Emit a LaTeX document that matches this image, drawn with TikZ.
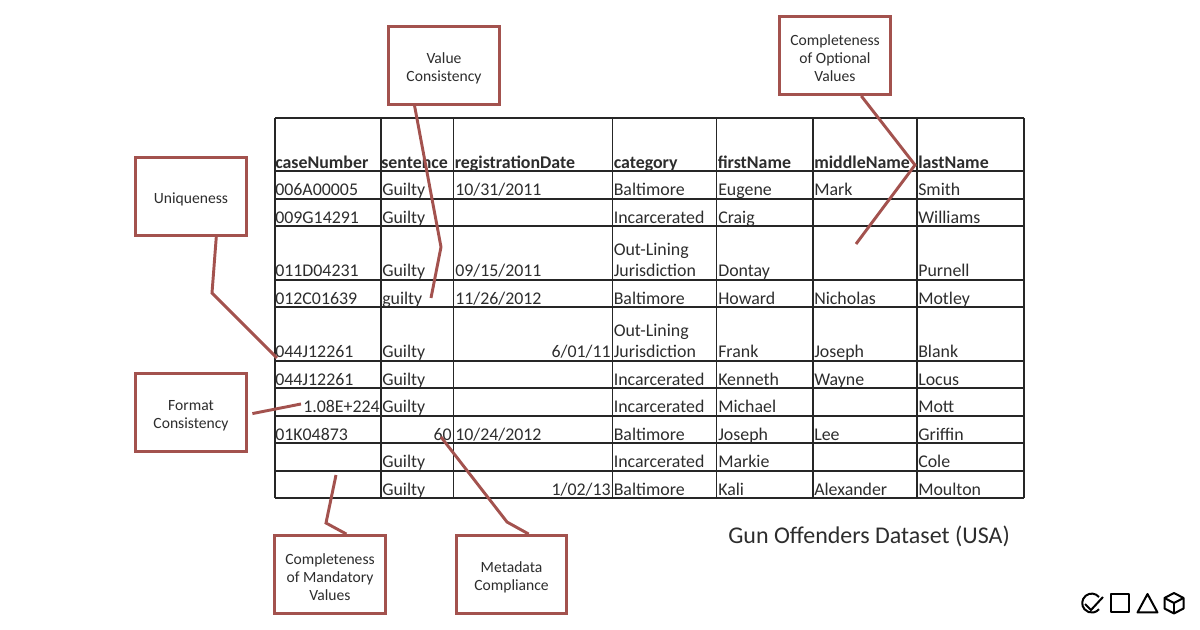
\documentclass[tikz,border=0pt]{standalone}
\usepackage{fontspec}
\setmainfont{Carlito}
\usetikzlibrary{positioning}
\definecolor{calloutred}{RGB}{163,82,78}
\definecolor{inkgrey}{RGB}{45,45,45}
\newcommand{\boxstrut}{\rule{0pt}{12.5pt}}

\begin{document}
\begin{tikzpicture}
				[
					x=0.75pt, y=-0.75pt,
					gridline/.style={draw=black!85, line width=1.1pt},
					tablecell/.style={anchor=base west, inner sep=0pt, text=inkgrey, font=\fontsize{13.4}{16}\selectfont},
					rightcell/.style={tablecell, anchor=base east},
					headcell/.style={tablecell, font=\fontsize{13.4}{16}\selectfont\bfseries},
					calloutbox/.style={rectangle, draw=calloutred, fill=white, line width=2.2pt, minimum width=83pt, minimum height=58.5pt, align=center, text=inkgrey, font=\fontsize{11.7}{13.5}\selectfont},
					calloutline/.style={draw=calloutred, line width=2.2pt},
					logoline/.style={draw=black, line width=1.5pt, line join=round},
				]
				\useasboundingbox (0,0) rectangle (1200,630);

				% table grid
				\foreach \rowy in {118,171,199,226,280,307,361,388,416,443,471,498}
					\draw[gridline] (275,\rowy) -- (1024,\rowy);
				\foreach \colx in {275,381,453.5,612.5,716.5,813,917,1024}
					\draw[gridline] (\colx,118) -- (\colx,498);

				% header row
				\node [headcell] (casehead) at (275,169) {caseNumber};
				\node [headcell] (sentencehead) at (381,169) {sentence};
				\node [headcell] (datehead) at (454.5,169) {registrationDate};
				\node [headcell] (categoryhead) at (613.5,169) {category};
				\node [headcell] (firsthead) at (717.5,169) {firstName};
				\node [headcell] (middlehead) at (814,169) {middleName};
				\node [headcell] (lasthead) at (918,169) {lastName};

				% columns, top to bottom
				\foreach \rowy/\celltext [count=\rowno] in {196/006A00005,223.5/009G14291,277/011D04231,304.5/012C01639,358/044J12261,385.5/044J12261,440.5/01K04873}
					\node [tablecell] (case\rowno) at (275,\rowy) {\celltext};
				\node [rightcell] (caseformat) at (380,413) {1.08E+224};
				\foreach \rowy/\celltext [count=\rowno] in {196/Guilty,223.5/Guilty,277/Guilty,304.5/guilty,358/Guilty,385.5/Guilty,413/Guilty,468/Guilty,495.5/Guilty}
					\node [tablecell] (sentence\rowno) at (382,\rowy) {\celltext};
				\node [rightcell] (sentencenum) at (452,440.5) {60};
				\foreach \rowy/\celltext [count=\rowno] in {196/{10/31/2011},277/{09/15/2011},304.5/{11/26/2012},440.5/{10/24/2012}}
					\node [tablecell] (date\rowno) at (455,\rowy) {\celltext};
				\node [rightcell] (dateshortone) at (611,358) {6/01/11};
				\node [rightcell] (dateshorttwo) at (611,495.5) {1/02/13};
				\foreach \rowy/\celltext [count=\rowno] in {196/Baltimore,223.5/Incarcerated,304.5/Baltimore,385.5/Incarcerated,413/Incarcerated,440.5/Baltimore,468/Incarcerated,495.5/Baltimore}
					\node [tablecell] (category\rowno) at (613.5,\rowy) {\celltext};
				\node [tablecell, anchor=south west, align=left] (outlineone) at (613.5,277) {Out-Lining\\Jurisdiction};
				\node [tablecell, anchor=south west, align=left] (outlinetwo) at (613.5,358) {Out-Lining\\Jurisdiction};
				\foreach \rowy/\celltext [count=\rowno] in {196/Eugene,223.5/Craig,277/Dontay,304.5/Howard,358/Frank,385.5/Kenneth,413/Michael,440.5/Joseph,468/Markie,495.5/Kali}
					\node [tablecell] (first\rowno) at (718,\rowy) {\celltext};
				\foreach \rowy/\celltext [count=\rowno] in {196/Mark,304.5/Nicholas,358/Joseph,385.5/Wayne,440.5/Lee,495.5/Alexander}
					\node [tablecell] (middle\rowno) at (814,\rowy) {\celltext};
				\foreach \rowy/\celltext [count=\rowno] in {196/Smith,223.5/Williams,277/Purnell,304.5/Motley,358/Blank,385.5/Locus,413/Mott,440.5/Griffin,468/Cole,495.5/Moulton}
					\node [tablecell] (last\rowno) at (918,\rowy) {\celltext};

				% callouts
				\node [calloutbox] (valuebox) at (444,65.5) {\boxstrut Value\\Consistency};
				\node [calloutbox] (optionalbox) at (835,55.5) {\boxstrut Completeness\\of Optional\\Values};
				\node [calloutbox] (uniquebox) at (191,196.5) {\boxstrut Uniqueness};
				\node [calloutbox] (formatbox) at (191,412.5) {\boxstrut Format\\Consistency};
				\node [calloutbox] (mandatorybox) at (330,574.5) {\boxstrut Completeness\\of Mandatory\\Values};
				\node [calloutbox] (metadatabox) at (511.5,574.5) {\boxstrut Metadata\\Compliance};

				\coordinate (valueend) at (431,298);
				\coordinate (optionalend) at (856,244);
				\coordinate (uniqueend) at (277,358);
				\coordinate (formatend) at (301,404);
				\coordinate (mandatoryend) at (336,475);
				\coordinate (metadataend) at (441,437);

				\draw[calloutline] (valuebox.234) -- (441,247) -- (valueend);
				\draw[calloutline] (optionalbox.-57) -- (915,165) -- (optionalend);
				\draw[calloutline] (uniquebox.-58) -- (212,293) -- (uniqueend);
				\draw[calloutline, shorten <=3.5pt] (formatbox.-2) -- (formatend);
				\draw[calloutline] (mandatorybox.68) -- (326,523) -- (mandatoryend);
				\draw[calloutline] (metadatabox.67) -- (507,522) -- (metadataend);

				\node [anchor=base west, inner sep=0pt, text=inkgrey, font=\fontsize{18}{22}\selectfont] (datasettitle) at (728,544) {Gun Offenders Dataset (USA)};

				% logo
				\draw[logoline] (1099,597) arc (-40:-320:9.5);
				\draw[logoline] (1085,604) -- (1091,610) -- (1103,597);
				\draw[logoline] (1111,594.5) rectangle (1129,612.5);
				\draw[logoline] (1147.5,594) -- (1157.5,612.5) -- (1137.5,612.5) -- cycle;
				\draw[logoline] (1174,593) -- (1183.5,598) -- (1183.5,608.5) -- (1174,613.5) -- (1164.5,608.5) -- (1164.5,598) -- cycle;
				\draw[logoline] (1164.5,598) -- (1174,603) -- (1183.5,598);
				\draw[logoline] (1174,603) -- (1174,613.5);

			\end{tikzpicture}
\end{document}
